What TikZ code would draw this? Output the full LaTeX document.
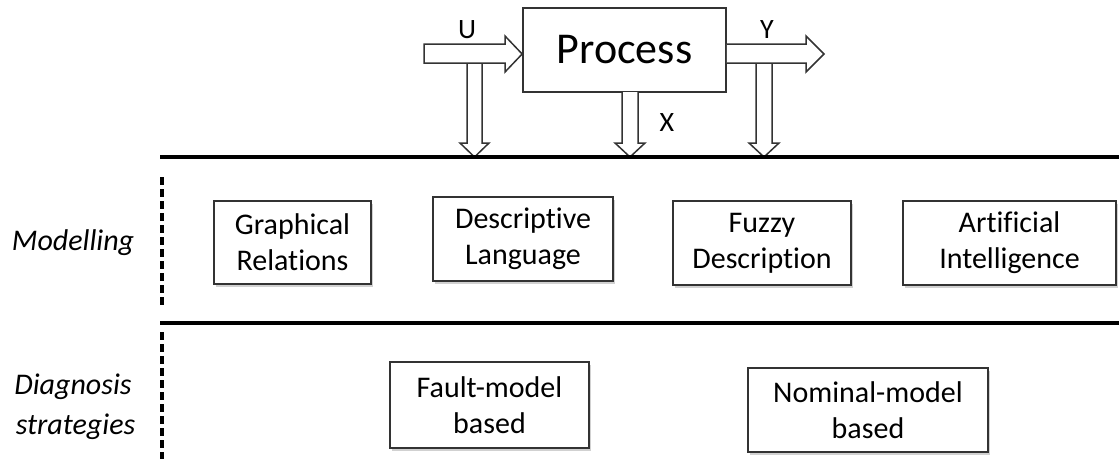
\documentclass[tikz,border=0pt]{standalone}
\usepackage{fontspec}
\setmainfont[Ligatures=NoCommon]{Carlito}
\usetikzlibrary{shadows}
\definecolor{edge}{HTML}{333333}
\begin{document}
\begin{tikzpicture}[x=1pt,y=-1pt,
  boxtext/.style={font=\fontsize{30}{36}\selectfont, align=center},
  conceptbox/.style={boxtext, draw=edge, line width=1.7pt, fill=white, inner sep=0pt,
     drop shadow={shadow xshift=1.5pt, shadow yshift=-2.5pt, fill=black!30, opacity=0.6}},
  blockarrow/.style={draw=edge, line width=1.5pt, fill=white, line join=miter},
  sepline/.style={line width=3.6pt, black},
  dashline/.style={line width=3.4pt, dash pattern=on 8pt off 4pt, black},
  sidelabel/.style={font=\fontsize{30}{40}\selectfont\itshape, align=center},
  varlabel/.style={font=\fontsize{28}{30}\selectfont}]
\useasboundingbox (0,0) rectangle (1119,459);

% process box
\node[draw=edge, line width=1.7pt, fill=white, minimum width=203pt, minimum height=84pt,
      font=\fontsize{44}{50}\selectfont] (proc) at (624.5,50) {Process};

% down arrows (drawn first so horizontal arrows overlay their tops)
\draw[blockarrow] (467,63) -- (467,143) -- (460,143) -- (474.5,157) -- (489,143) -- (482,143) -- (482,63) -- cycle;
\draw[blockarrow] (622,92) -- (622,143) -- (615,143) -- (630,157) -- (645,143) -- (638,143) -- (638,92);
\draw[blockarrow] (756,63) -- (756,143) -- (749,143) -- (764,157) -- (779,143) -- (772,143) -- (772,63) -- cycle;

% input / output arrows
\draw[blockarrow] (424,44) -- (505,44) -- (505,36) -- (proc.west |- 0,54) -- (505,72) -- (505,63) -- (424,63) -- cycle;
\draw[blockarrow] (proc.east |- 0,44) -- (806,44) -- (806,36) -- (824,54) -- (806,72) -- (806,63) -- (proc.east |- 0,63);

\node[varlabel] (u) at (467,30) {U};
\node[varlabel] (y) at (767,30) {Y};
\node[varlabel] (xl) at (667,123) {X};

% separators
\coordinate (l1a) at (160,157); \coordinate (l1b) at (1119,157);
\coordinate (l2a) at (160,323); \coordinate (l2b) at (1119,323);
\draw[sepline] (l1a) -- (l1b);
\draw[sepline] (l2a) -- (l2b);
\coordinate (d1a) at (162,177); \coordinate (d1b) at (162,306);
\coordinate (d2a) at (162,332); \coordinate (d2b) at (162,459);
\draw[dashline] (d1a) -- (d1b);
\draw[dashline] (d2a) -- (d2b);

% side labels
\node[sidelabel] (mod) at (73,243) {Modelling};
\node[sidelabel] (diag) at (73,407) {Diagnosis\\\hspace*{5pt}strategies};

% modelling boxes
\node[conceptbox, minimum width=157pt, minimum height=83pt] (gr) at (292.5,242.5) {Graphical\\Relations};
\node[conceptbox, minimum width=180pt, minimum height=84pt] (dl) at (523,239) {Descriptive\\Language};
\node[conceptbox, minimum width=178pt, minimum height=84pt] (fd) at (762,243) {Fuzzy\\Description};
\node[conceptbox, minimum width=213pt, minimum height=84pt] (ai) at (1009.5,243) {Artificial\\Intelligence};

% diagnosis boxes
\node[conceptbox, minimum width=199pt, minimum height=86pt] (fm) at (489.5,405) {Fault-model\\based};
\node[conceptbox, minimum width=240pt, minimum height=84pt] (nm) at (868,410) {Nominal-model\\based};
\end{tikzpicture}
\end{document}
